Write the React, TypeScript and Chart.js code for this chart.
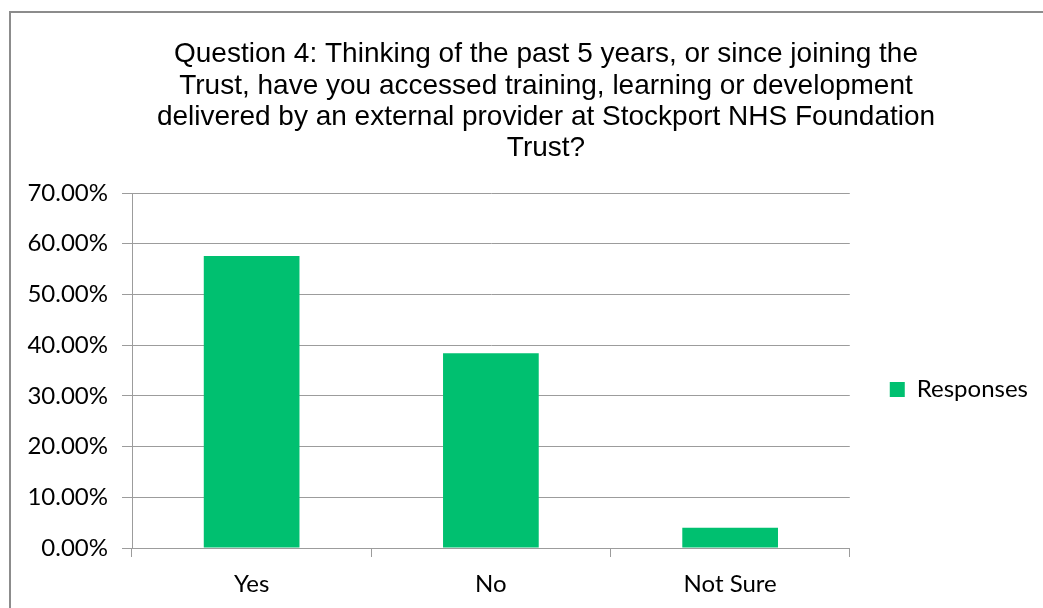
import React, { useEffect, useRef } from "react";
import { Chart, registerables } from "chart.js";

Chart.register(...registerables);

const titleLines = [
  "Question 4: Thinking of the past 5 years, or since joining the",
  "Trust, have you accessed training, learning or development",
  "delivered by an external provider at Stockport NHS Foundation",
  "Trust?",
];
const categories = ["Yes", "No", "Not Sure"];
const responses = [57.6, 38.4, 4.0];
const seriesName = "Responses";
const yMin = 0;
const yMax = 70;
const yStep = 10;

const GRID = "#9c9c9c";
const BAR = "#00C070";
const LABEL_FONT = { family: "Lato, 'Noto Sans', sans-serif", size: 24 };

// shifts the title block horizontally to match the original placement
const titleShift = {
  id: "titleShift",
  afterLayout(chart: any) {
    const t = chart.titleBlock;
    if (t) {
      t.left += 21.5;
      t.right += 21.5;
    }
  },
};

export default function App() {
  const ref = useRef<HTMLCanvasElement | null>(null);

  useEffect(() => {
    if (!ref.current) return;
    const chart = new Chart(ref.current, {
      type: "bar",
      data: {
        labels: categories,
        datasets: [
          {
            label: seriesName,
            data: responses,
            backgroundColor: BAR,
            borderWidth: 0,
            categoryPercentage: 1,
            barPercentage: 0.4,
          },
        ],
      },
      plugins: [titleShift],
      options: {
        animation: false,
        responsive: false,
        layout: { padding: { left: 0, right: 5, top: 0, bottom: 0 } },
        plugins: {
          title: {
            display: true,
            text: titleLines,
            color: "#000",
            font: {
              family: "'Liberation Sans', Arial, sans-serif",
              size: 28,
              weight: "normal",
              lineHeight: 31.3 / 28,
            },
            padding: { top: 26, bottom: 28.8 },
          },
          legend: {
            position: "right",
            fullSize: false,
            align: "center",
            labels: {
              boxWidth: 15,
              boxHeight: 15,
              padding: 40,
              color: "#000",
              font: LABEL_FONT,
            },
            title: {
              display: true,
              text: " ",
              font: { size: 10, lineHeight: 1 },
              padding: { top: 14, bottom: 14 },
            },
          },
          tooltip: { enabled: false },
        },
        scales: {
          x: {
            grid: {
              display: true,
              drawOnChartArea: false,
              drawTicks: true,
              tickLength: 9,
              offset: true,
              color: GRID,
            },
            border: { display: true, color: GRID },
            ticks: { color: "#000", font: LABEL_FONT, padding: 13 },
            afterFit: (s: any) => {
              s.height = 60;
            },
          },
          y: {
            min: yMin,
            max: yMax,
            grid: { color: GRID, tickLength: 10, drawTicks: true },
            border: { display: true, color: GRID },
            ticks: {
              stepSize: yStep,
              color: "#000",
              font: LABEL_FONT,
              padding: 14,
              callback: (v: any) => Number(v).toFixed(2) + "%",
            },
            afterFit: (s: any) => {
              s.width = 121;
            },
          },
        },
      },
    });
    return () => chart.destroy();
  }, []);

  return (
    <div
      style={{
        position: "fixed",
        left: 9,
        top: 11,
        right: 0,
        bottom: 0,
        borderLeft: "2px solid #8c8c8c",
        borderTop: "2px solid #8c8c8c",
        background: "#fff",
        overflow: "hidden",
      }}
    >
      <canvas
        ref={ref}
        width={1032}
        height={595}
        style={{ display: "block", width: 1032, height: 595 }}
      />
    </div>
  );
}
